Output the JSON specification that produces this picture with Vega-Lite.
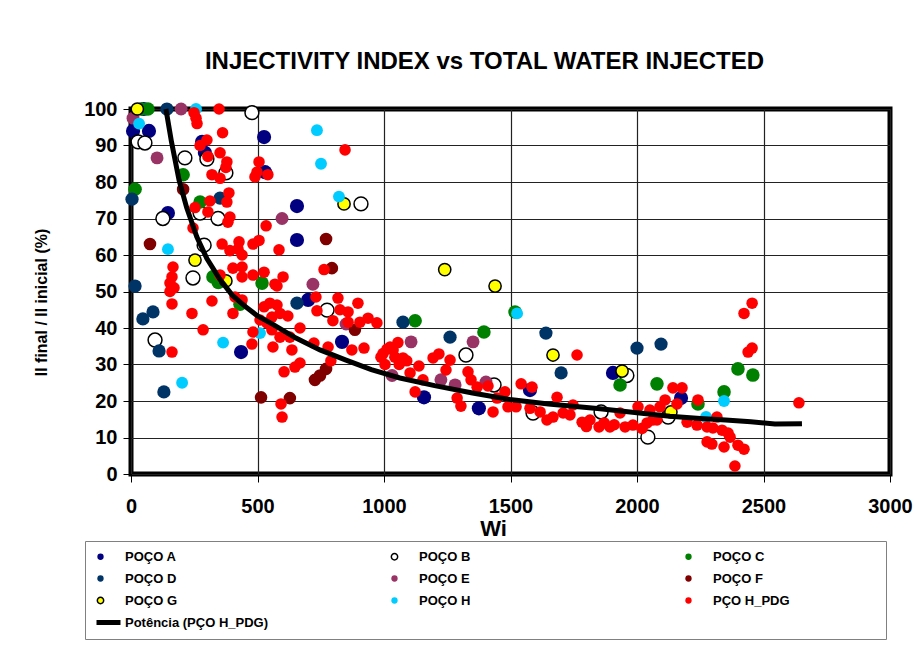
{
  "$schema": "https://vega.github.io/schema/vega-lite/v6.json",
  "autosize": {"type": "none"},
  "width": 759,
  "height": 365,
  "padding": {"left": 131, "top": 109, "right": 25, "bottom": 177},
  "background": "white",
  "title": {"text": "INJECTIVITY INDEX  vs TOTAL WATER INJECTED", "fontSize": 24, "font": "Liberation Sans", "fontWeight": "bold", "color": "black", "anchor": "middle", "offset": 25, "dx": -26},
  "config": {
    "view": {"stroke": "black", "strokeWidth": 5},
    "font": "Liberation Sans",
    "axis": {"gridColor": "#222222", "gridWidth": 1.2, "gridOpacity": 1, "domain": false, "tickColor": "black", "tickSize": 8, "tickWidth": 1, "labelFont": "Liberation Sans", "labelFontSize": 20, "labelFontWeight": "bold", "labelColor": "black", "labelOverlap": false, "titleFont": "Liberation Sans", "titleColor": "black", "titleFontWeight": "bold"},
    "legend": {"labelFont": "Liberation Sans", "labelFontSize": 13, "labelFontWeight": "bold", "labelColor": "black"}
  },
  "datasets": {
    "pts": [
      {"series":"POÇO A","wi":8,"ii":94},{"series":"POÇO A","wi":71,"ii":94},{"series":"POÇO A","wi":50,"ii":100},{"series":"POÇO A","wi":281,"ii":91},{"series":"POÇO A","wi":292,"ii":88},{"series":"POÇO A","wi":526,"ii":92.3},{"series":"POÇO A","wi":530,"ii":82.7},{"series":"POÇO A","wi":146,"ii":71.5},{"series":"POÇO A","wi":656,"ii":73.4},{"series":"POÇO A","wi":656,"ii":64.1},{"series":"POÇO A","wi":700,"ii":47.7},{"series":"POÇO A","wi":435,"ii":33.4},{"series":"POÇO A","wi":834,"ii":36.2},{"series":"POÇO A","wi":1158,"ii":21},{"series":"POÇO A","wi":1375,"ii":18},{"series":"POÇO A","wi":1577,"ii":23},{"series":"POÇO A","wi":1905,"ii":27.7},{"series":"POÇO A","wi":2174,"ii":20.8},
      {"series":"POÇO B","wi":478,"ii":99},{"series":"POÇO B","wi":28,"ii":91},{"series":"POÇO B","wi":55,"ii":90.7},{"series":"POÇO B","wi":213,"ii":86.6},{"series":"POÇO B","wi":300,"ii":86.3},{"series":"POÇO B","wi":375,"ii":82.5},{"series":"POÇO B","wi":126,"ii":70},{"series":"POÇO B","wi":344,"ii":70},{"series":"POÇO B","wi":273,"ii":71.5},{"series":"POÇO B","wi":289,"ii":62.7},{"series":"POÇO B","wi":245,"ii":53.7},{"series":"POÇO B","wi":909,"ii":74},{"series":"POÇO B","wi":95,"ii":36.7},{"series":"POÇO B","wi":775,"ii":44.9},{"series":"POÇO B","wi":1324,"ii":32.6},{"series":"POÇO B","wi":1435,"ii":24.4},{"series":"POÇO B","wi":1589,"ii":16.7},{"series":"POÇO B","wi":1858,"ii":17},{"series":"POÇO B","wi":1960,"ii":27},{"series":"POÇO B","wi":2043,"ii":10.1},{"series":"POÇO B","wi":2123,"ii":15.6},
      {"series":"POÇO C","wi":67,"ii":100},{"series":"POÇO C","wi":40,"ii":100},{"series":"POÇO C","wi":16,"ii":78},{"series":"POÇO C","wi":206,"ii":82},{"series":"POÇO C","wi":273,"ii":74.5},{"series":"POÇO C","wi":324,"ii":54},{"series":"POÇO C","wi":345,"ii":52.5},{"series":"POÇO C","wi":518,"ii":52.3},{"series":"POÇO C","wi":431,"ii":46.5},{"series":"POÇO C","wi":1123,"ii":42},{"series":"POÇO C","wi":1395,"ii":38.9},{"series":"POÇO C","wi":1518,"ii":44.4},{"series":"POÇO C","wi":1933,"ii":24.4},{"series":"POÇO C","wi":2079,"ii":24.7},{"series":"POÇO C","wi":2241,"ii":19.2},{"series":"POÇO C","wi":2344,"ii":22.5},{"series":"POÇO C","wi":2399,"ii":28.8},{"series":"POÇO C","wi":2458,"ii":27.1},
      {"series":"POÇO D","wi":142,"ii":100},{"series":"POÇO D","wi":4,"ii":75.3},{"series":"POÇO D","wi":352,"ii":75.6},{"series":"POÇO D","wi":16,"ii":51.5},{"series":"POÇO D","wi":47,"ii":42.5},{"series":"POÇO D","wi":87,"ii":44.4},{"series":"POÇO D","wi":111,"ii":33.7},{"series":"POÇO D","wi":130,"ii":22.5},{"series":"POÇO D","wi":656,"ii":46.8},{"series":"POÇO D","wi":1075,"ii":41.6},{"series":"POÇO D","wi":1261,"ii":37.5},{"series":"POÇO D","wi":1640,"ii":38.6},{"series":"POÇO D","wi":1700,"ii":27.7},{"series":"POÇO D","wi":2000,"ii":34.5},{"series":"POÇO D","wi":2095,"ii":35.6},
      {"series":"POÇO E","wi":8,"ii":97.5},{"series":"POÇO E","wi":198,"ii":100},{"series":"POÇO E","wi":103,"ii":86.6},{"series":"POÇO E","wi":597,"ii":70},{"series":"POÇO E","wi":719,"ii":52},{"series":"POÇO E","wi":850,"ii":41.1},{"series":"POÇO E","wi":1032,"ii":27},{"series":"POÇO E","wi":1107,"ii":36.2},{"series":"POÇO E","wi":1352,"ii":36.2},{"series":"POÇO E","wi":1225,"ii":25.8},{"series":"POÇO E","wi":1281,"ii":24.4},{"series":"POÇO E","wi":1403,"ii":25.2},
      {"series":"POÇO F","wi":206,"ii":78},{"series":"POÇO F","wi":75,"ii":63},{"series":"POÇO F","wi":771,"ii":64.4},{"series":"POÇO F","wi":794,"ii":56.4},{"series":"POÇO F","wi":885,"ii":39.5},{"series":"POÇO F","wi":771,"ii":28.8},{"series":"POÇO F","wi":747,"ii":27},{"series":"POÇO F","wi":727,"ii":25.8},{"series":"POÇO F","wi":514,"ii":21},{"series":"POÇO F","wi":628,"ii":20.8},
      {"series":"POÇO G","wi":25,"ii":100},{"series":"POÇO G","wi":253,"ii":58.6},{"series":"POÇO G","wi":375,"ii":52.9},{"series":"POÇO G","wi":842,"ii":74},{"series":"POÇO G","wi":1240,"ii":56},{"series":"POÇO G","wi":1439,"ii":51.5},{"series":"POÇO G","wi":1668,"ii":32.6},{"series":"POÇO G","wi":1941,"ii":28.2},{"series":"POÇO G","wi":2134,"ii":17},
      {"series":"POÇO H","wi":32,"ii":96},{"series":"POÇO H","wi":257,"ii":100},{"series":"POÇO H","wi":735,"ii":94.2},{"series":"POÇO H","wi":751,"ii":85},{"series":"POÇO H","wi":822,"ii":76},{"series":"POÇO H","wi":146,"ii":61.6},{"series":"POÇO H","wi":202,"ii":25},{"series":"POÇO H","wi":364,"ii":36},{"series":"POÇO H","wi":510,"ii":38.6},{"series":"POÇO H","wi":1526,"ii":44},{"series":"POÇO H","wi":2344,"ii":20},{"series":"POÇO H","wi":2273,"ii":15.6},
      {"series":"PÇO H_PDG","wi":249,"ii":99},{"series":"PÇO H_PDG","wi":257,"ii":97.5},{"series":"PÇO H_PDG","wi":261,"ii":96},{"series":"PÇO H_PDG","wi":348,"ii":100},{"series":"PÇO H_PDG","wi":362,"ii":93.5},{"series":"PÇO H_PDG","wi":273,"ii":90},{"series":"PÇO H_PDG","wi":300,"ii":91.5},{"series":"PÇO H_PDG","wi":304,"ii":87},{"series":"PÇO H_PDG","wi":352,"ii":88},{"series":"PÇO H_PDG","wi":379,"ii":85.5},{"series":"PÇO H_PDG","wi":375,"ii":84},{"series":"PÇO H_PDG","wi":320,"ii":82},{"series":"PÇO H_PDG","wi":352,"ii":81},{"series":"PÇO H_PDG","wi":506,"ii":85.5},{"series":"PÇO H_PDG","wi":498,"ii":82.7},{"series":"PÇO H_PDG","wi":490,"ii":81.4},{"series":"PÇO H_PDG","wi":541,"ii":82},{"series":"PÇO H_PDG","wi":846,"ii":88.8},{"series":"PÇO H_PDG","wi":312,"ii":74.8},{"series":"PÇO H_PDG","wi":387,"ii":77},{"series":"PÇO H_PDG","wi":379,"ii":74.5},{"series":"PÇO H_PDG","wi":253,"ii":73},{"series":"PÇO H_PDG","wi":304,"ii":71.8},{"series":"PÇO H_PDG","wi":391,"ii":70.4},{"series":"PÇO H_PDG","wi":383,"ii":69},{"series":"PÇO H_PDG","wi":245,"ii":67.4},{"series":"PÇO H_PDG","wi":534,"ii":68},{"series":"PÇO H_PDG","wi":360,"ii":63},{"series":"PÇO H_PDG","wi":391,"ii":61.2},{"series":"PÇO H_PDG","wi":427,"ii":63.6},{"series":"PÇO H_PDG","wi":423,"ii":61.6},{"series":"PÇO H_PDG","wi":439,"ii":60},{"series":"PÇO H_PDG","wi":482,"ii":63},{"series":"PÇO H_PDG","wi":506,"ii":64},{"series":"PÇO H_PDG","wi":585,"ii":61.4},{"series":"PÇO H_PDG","wi":763,"ii":56},{"series":"PÇO H_PDG","wi":166,"ii":56.7},{"series":"PÇO H_PDG","wi":162,"ii":54},{"series":"PÇO H_PDG","wi":154,"ii":52.3},{"series":"PÇO H_PDG","wi":170,"ii":51},{"series":"PÇO H_PDG","wi":352,"ii":54.5},{"series":"PÇO H_PDG","wi":403,"ii":56.4},{"series":"PÇO H_PDG","wi":439,"ii":56.7},{"series":"PÇO H_PDG","wi":439,"ii":54},{"series":"PÇO H_PDG","wi":482,"ii":54.5},{"series":"PÇO H_PDG","wi":526,"ii":55.3},{"series":"PÇO H_PDG","wi":569,"ii":52},{"series":"PÇO H_PDG","wi":601,"ii":54},{"series":"PÇO H_PDG","wi":577,"ii":51.5},{"series":"PÇO H_PDG","wi":154,"ii":50},{"series":"PÇO H_PDG","wi":162,"ii":46.6},{"series":"PÇO H_PDG","wi":320,"ii":47.4},{"series":"PÇO H_PDG","wi":241,"ii":44},{"series":"PÇO H_PDG","wi":285,"ii":39.5},{"series":"PÇO H_PDG","wi":162,"ii":33.4},{"series":"PÇO H_PDG","wi":411,"ii":48.5},{"series":"PÇO H_PDG","wi":403,"ii":44},{"series":"PÇO H_PDG","wi":439,"ii":47.7},{"series":"PÇO H_PDG","wi":526,"ii":45.8},{"series":"PÇO H_PDG","wi":577,"ii":46.3},{"series":"PÇO H_PDG","wi":589,"ii":44},{"series":"PÇO H_PDG","wi":510,"ii":42.2},{"series":"PÇO H_PDG","wi":557,"ii":43},{"series":"PÇO H_PDG","wi":620,"ii":43.3},{"series":"PÇO H_PDG","wi":482,"ii":38.9},{"series":"PÇO H_PDG","wi":731,"ii":48.5},{"series":"PÇO H_PDG","wi":735,"ii":44.7},{"series":"PÇO H_PDG","wi":818,"ii":48.2},{"series":"PÇO H_PDG","wi":826,"ii":45},{"series":"PÇO H_PDG","wi":858,"ii":44.4},{"series":"PÇO H_PDG","wi":897,"ii":46.8},{"series":"PÇO H_PDG","wi":798,"ii":42},{"series":"PÇO H_PDG","wi":905,"ii":41.6},{"series":"PÇO H_PDG","wi":937,"ii":42.7},{"series":"PÇO H_PDG","wi":972,"ii":41.4},{"series":"PÇO H_PDG","wi":858,"ii":41.6},{"series":"PÇO H_PDG","wi":668,"ii":40},{"series":"PÇO H_PDG","wi":557,"ii":39.5},{"series":"PÇO H_PDG","wi":589,"ii":37.5},{"series":"PÇO H_PDG","wi":628,"ii":37.5},{"series":"PÇO H_PDG","wi":549,"ii":46.8},{"series":"PÇO H_PDG","wi":537,"ii":41.4},{"series":"PÇO H_PDG","wi":478,"ii":35.6},{"series":"PÇO H_PDG","wi":561,"ii":34.8},{"series":"PÇO H_PDG","wi":636,"ii":34},{"series":"PÇO H_PDG","wi":723,"ii":35.9},{"series":"PÇO H_PDG","wi":779,"ii":34.8},{"series":"PÇO H_PDG","wi":873,"ii":34},{"series":"PÇO H_PDG","wi":921,"ii":34.5},{"series":"PÇO H_PDG","wi":668,"ii":30.4},{"series":"PÇO H_PDG","wi":648,"ii":29.3},{"series":"PÇO H_PDG","wi":605,"ii":28},{"series":"PÇO H_PDG","wi":790,"ii":31},{"series":"PÇO H_PDG","wi":593,"ii":19.2},{"series":"PÇO H_PDG","wi":597,"ii":15.6},{"series":"PÇO H_PDG","wi":988,"ii":32},{"series":"PÇO H_PDG","wi":1012,"ii":34.2},{"series":"PÇO H_PDG","wi":1043,"ii":32},{"series":"PÇO H_PDG","wi":1055,"ii":36},{"series":"PÇO H_PDG","wi":1004,"ii":30},{"series":"PÇO H_PDG","wi":996,"ii":33},{"series":"PÇO H_PDG","wi":1024,"ii":34.8},
      {"series":"PÇO H_PDG","wi":1036,"ii":34},{"series":"PÇO H_PDG","wi":1075,"ii":31.8},{"series":"PÇO H_PDG","wi":1060,"ii":30},{"series":"PÇO H_PDG","wi":1090,"ii":31},{"series":"PÇO H_PDG","wi":1194,"ii":31.8},{"series":"PÇO H_PDG","wi":1217,"ii":32.9},{"series":"PÇO H_PDG","wi":1261,"ii":31.2},{"series":"PÇO H_PDG","wi":1245,"ii":28.5},{"series":"PÇO H_PDG","wi":1138,"ii":29.6},{"series":"PÇO H_PDG","wi":1103,"ii":27.7},{"series":"PÇO H_PDG","wi":1154,"ii":25.8},{"series":"PÇO H_PDG","wi":1123,"ii":22.5},{"series":"PÇO H_PDG","wi":1289,"ii":20.8},{"series":"PÇO H_PDG","wi":1304,"ii":18.6},{"series":"PÇO H_PDG","wi":1332,"ii":28},{"series":"PÇO H_PDG","wi":1344,"ii":25.8},{"series":"PÇO H_PDG","wi":1368,"ii":23.8},{"series":"PÇO H_PDG","wi":1411,"ii":24.1},{"series":"PÇO H_PDG","wi":1447,"ii":20.8},{"series":"PÇO H_PDG","wi":1478,"ii":22.5},{"series":"PÇO H_PDG","wi":1431,"ii":17},{"series":"PÇO H_PDG","wi":1490,"ii":18.4},{"series":"PÇO H_PDG","wi":1522,"ii":18.4},{"series":"PÇO H_PDG","wi":1542,"ii":24.7},{"series":"PÇO H_PDG","wi":1585,"ii":23.8},{"series":"PÇO H_PDG","wi":1684,"ii":21},{"series":"PÇO H_PDG","wi":1577,"ii":18},{"series":"PÇO H_PDG","wi":1617,"ii":17},{"series":"PÇO H_PDG","wi":1644,"ii":14.8},{"series":"PÇO H_PDG","wi":1668,"ii":15.6},{"series":"PÇO H_PDG","wi":1708,"ii":16.7},{"series":"PÇO H_PDG","wi":1735,"ii":16.2},{"series":"PÇO H_PDG","wi":1747,"ii":18.9},{"series":"PÇO H_PDG","wi":1783,"ii":14.2},{"series":"PÇO H_PDG","wi":1800,"ii":13},{"series":"PÇO H_PDG","wi":1814,"ii":14.8},{"series":"PÇO H_PDG","wi":1850,"ii":12.9},{"series":"PÇO H_PDG","wi":1870,"ii":14},{"series":"PÇO H_PDG","wi":1893,"ii":12.9},{"series":"PÇO H_PDG","wi":1910,"ii":13.5},{"series":"PÇO H_PDG","wi":1933,"ii":16.7},{"series":"PÇO H_PDG","wi":1953,"ii":12.9},{"series":"PÇO H_PDG","wi":1984,"ii":13.4},{"series":"PÇO H_PDG","wi":2004,"ii":18.4},{"series":"PÇO H_PDG","wi":2020,"ii":12.5},{"series":"PÇO H_PDG","wi":2040,"ii":14},{"series":"PÇO H_PDG","wi":2051,"ii":17.5},{"series":"PÇO H_PDG","wi":2063,"ii":14.8},{"series":"PÇO H_PDG","wi":2079,"ii":14.8},{"series":"PÇO H_PDG","wi":2091,"ii":18.4},{"series":"PÇO H_PDG","wi":2111,"ii":20.3},{"series":"PÇO H_PDG","wi":1763,"ii":32.6},
      {"series":"PÇO H_PDG","wi":2455,"ii":46.8},{"series":"PÇO H_PDG","wi":2423,"ii":44},{"series":"PÇO H_PDG","wi":2455,"ii":34.5},{"series":"PÇO H_PDG","wi":2439,"ii":33.4},{"series":"PÇO H_PDG","wi":2241,"ii":20.3},{"series":"PÇO H_PDG","wi":2142,"ii":23.6},{"series":"PÇO H_PDG","wi":2178,"ii":23.6},{"series":"PÇO H_PDG","wi":2158,"ii":19.2},{"series":"PÇO H_PDG","wi":2198,"ii":14.2},{"series":"PÇO H_PDG","wi":2237,"ii":13.4},{"series":"PÇO H_PDG","wi":2277,"ii":12.9},{"series":"PÇO H_PDG","wi":2316,"ii":15.6},{"series":"PÇO H_PDG","wi":2300,"ii":12.6},{"series":"PÇO H_PDG","wi":2336,"ii":12},{"series":"PÇO H_PDG","wi":2360,"ii":11.2},{"series":"PÇO H_PDG","wi":2277,"ii":8.8},{"series":"PÇO H_PDG","wi":2296,"ii":8.2},{"series":"PÇO H_PDG","wi":2344,"ii":7.4},{"series":"PÇO H_PDG","wi":2399,"ii":7.9},{"series":"PÇO H_PDG","wi":2423,"ii":6.8},{"series":"PÇO H_PDG","wi":2387,"ii":2.2},{"series":"PÇO H_PDG","wi":2368,"ii":10.1},{"series":"PÇO H_PDG","wi":2640,"ii":19.5}
    ],
    "trend": [
      {"wi":138,"ii":100},{"wi":160,"ii":91},{"wi":190,"ii":80.5},{"wi":220,"ii":73},{"wi":260,"ii":65},{"wi":300,"ii":59},{"wi":350,"ii":53.5},{"wi":400,"ii":49},{"wi":450,"ii":46},{"wi":500,"ii":43.3},{"wi":561,"ii":41},{"wi":650,"ii":37.3},{"wi":747,"ii":34},{"wi":850,"ii":31.2},{"wi":950,"ii":28.6},{"wi":1063,"ii":26.3},{"wi":1200,"ii":24.2},{"wi":1350,"ii":22.2},{"wi":1498,"ii":20.4},{"wi":1650,"ii":19.2},{"wi":1854,"ii":17.9},{"wi":2000,"ii":16.8},{"wi":2130,"ii":15.8},{"wi":2250,"ii":15.2},{"wi":2350,"ii":14.8},{"wi":2450,"ii":14.3},{"wi":2545,"ii":13.7},{"wi":2652,"ii":13.8}
    ]
  },
  "encoding": {
    "x": {"field": "wi", "type": "quantitative", "scale": {"domain": [0, 3000], "nice": false},
      "axis": {"values": [0,500,1000,1500,2000,2500,3000], "tickCount": 30, "format": "d", "grid": true, "title": "Wi", "titleFontSize": 22, "titleX": 362, "titleY": 54, "titleBaseline": "middle", "labelPadding": 14, "labelFlush": false}},
    "y": {"field": "ii", "type": "quantitative", "scale": {"domain": [0, 100], "nice": false},
      "axis": {"values": [0,10,20,30,40,50,60,70,80,90,100], "tickCount": 30, "format": "d", "grid": true, "title": "II final / II inicial  (%)", "titleFontSize": 16, "titleAngle": -90, "titleX": -90, "titleY": 193, "titleAlign": "center", "titleBaseline": "middle", "labelPadding": 6}}
  },
  "layer": [
    {
      "data": {"name": "pts"},
      "mark": {"type": "point", "filled": true, "opacity": 1, "strokeWidth": 1.5},
      "encoding": {
        "color": {"field": "series", "type": "nominal", "title": null,
          "scale": {"domain": ["POÇO A","POÇO B","POÇO C","POÇO D","POÇO E","POÇO F","POÇO G","POÇO H","PÇO H_PDG","Potência (PÇO H_PDG)"],
                    "range": ["#000080","#FFFFFF","#008000","#003366","#993366","#800000","#FFFF00","#00CCFF","#FF0000","transparent"]},
          "legend": {"orient": "none", "legendX": -46, "legendY": 432, "direction": "horizontal", "columns": 3, "gridAlign": "all", "columnPadding": 119, "rowPadding": 8, "symbolSize": 40, "symbolType": "circle", "symbolStrokeWidth": 1.5, "title": " ", "titleOrient": "right", "titlePadding": 87, "titleFontSize": 2, "labelLimit": 300, "labelOffset": 18, "strokeColor": "#808080", "padding": 9}},
        "stroke": {"field": "series", "type": "nominal", "title": null,
          "scale": {"domain": ["POÇO A","POÇO B","POÇO C","POÇO D","POÇO E","POÇO F","POÇO G","POÇO H","PÇO H_PDG","Potência (PÇO H_PDG)"],
                    "range": ["transparent","#000000","transparent","transparent","transparent","transparent","#000000","transparent","transparent","transparent"]},
          "legend": {"orient": "none", "legendX": -46, "legendY": 432, "direction": "horizontal", "columns": 3, "gridAlign": "all", "columnPadding": 119, "rowPadding": 8, "symbolSize": 40, "symbolType": "circle", "symbolStrokeWidth": 1.5, "title": " ", "titleOrient": "right", "titlePadding": 87, "titleFontSize": 2, "labelLimit": 300, "labelOffset": 18, "strokeColor": "#808080", "padding": 9}},
        "size": {"field": "series", "type": "nominal", "legend": null,
          "scale": {"domain": ["POÇO A","POÇO B","POÇO C","POÇO D","POÇO E","POÇO F","POÇO G","POÇO H","PÇO H_PDG"], "range": [201,133,254,113,64,79,95,154,95]}}
      }
    },
    {
      "data": {"name": "trend"},
      "mark": {"type": "line", "color": "black", "strokeWidth": 5},
      "encoding": {
        "strokeWidth": {"datum": "Potência (PÇO H_PDG)", "type": "nominal", "scale": {"range": [5, 5]},
          "legend": {"orient": "none", "legendX": -37, "legendY": 499, "title": null, "symbolType": "stroke", "symbolSize": 576, "symbolStrokeColor": "black", "labelExpr": "''", "padding": 0}}
      }
    }
  ]
}
